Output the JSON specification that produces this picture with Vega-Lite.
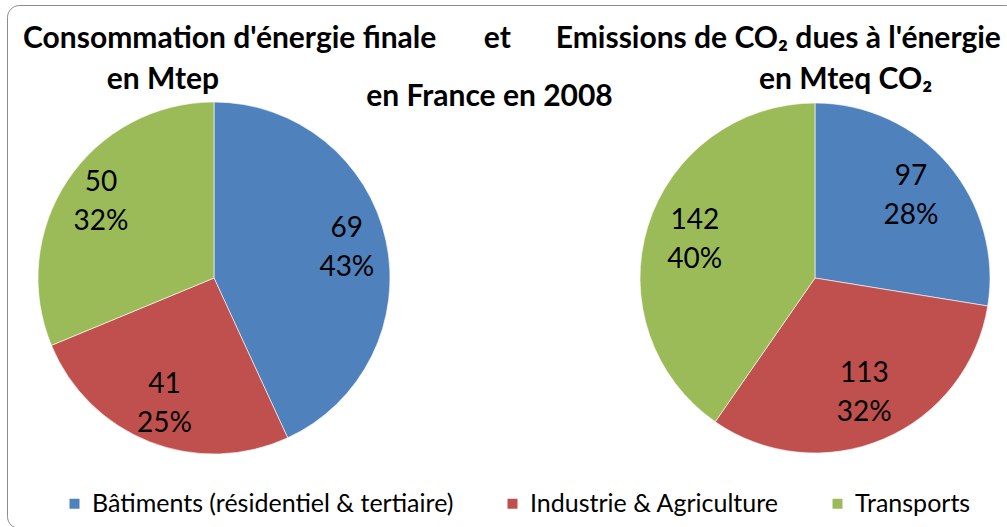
{
  "$schema": "https://vega.github.io/schema/vega-lite/v6.json",
  "width": 1010,
  "height": 523,
  "autosize": {"type": "none"},
  "padding": {"left": 7, "top": 5, "right": 0, "bottom": 0},
  "background": "white",
  "config": {
    "view": {"stroke": "#8c8c8c", "strokeWidth": 1, "cornerRadius": 12},
    "font": "Lato"
  },
  "title": {
    "text": [
      "Consommation d'énergie finale\u2003\u2002\u2006\u2006et\u2003\u2003Emissions de CO₂ dues à l'énergie",
      "\u200b\u2002en Mtep\u2003\u2003\u2003\u2003\u2003\u2003\u2003\u2003\u2003\u2003\u2003\u2003\u2003\u2003\u2003\u2003\u2003\u2003\u2003\u2003\u2003\u2003\u2003\u2003en Mteq CO₂\u200b"
    ],
    "subtitle": "\u200ben France en 2008\u2003\u2003\u200b",
    "orient": "top",
    "anchor": "middle",
    "frame": "group",
    "offset": -107,
    "font": "Lato",
    "fontSize": 30,
    "fontWeight": "bold",
    "lineHeight": 41,
    "color": "black",
    "subtitleFont": "Lato",
    "subtitleFontSize": 30,
    "subtitleFontWeight": "bold",
    "subtitleColor": "black",
    "subtitlePadding": -13
  },
  "data": {
    "values": [
      {"chart": "Consommation", "cat": "Bâtiments (résidentiel & tertiaire)", "value": 69, "pct": "43%"},
      {"chart": "Consommation", "cat": "Industrie & Agriculture", "value": 41, "pct": "25%"},
      {"chart": "Consommation", "cat": "Transports", "value": 50, "pct": "32%"},
      {"chart": "Emissions", "cat": "Bâtiments (résidentiel & tertiaire)", "value": 97, "pct": "28%"},
      {"chart": "Emissions", "cat": "Industrie & Agriculture", "value": 113, "pct": "32%"},
      {"chart": "Emissions", "cat": "Transports", "value": 142, "pct": "40%"}
    ]
  },
  "encoding": {
    "x": {
      "field": "chart",
      "type": "nominal",
      "scale": {"type": "point", "domain": ["Consommation", "Emissions"], "range": [207, 808], "padding": 0},
      "axis": null
    },
    "color": {
      "field": "cat",
      "type": "nominal",
      "scale": {
        "domain": ["Bâtiments (résidentiel & tertiaire)", "Industrie & Agriculture", "Transports"],
        "range": ["#4F81BD", "#C0504D", "#9BBB59"]
      },
      "legend": {
        "title": null,
        "orient": "none",
        "direction": "horizontal",
        "legendX": 55,
        "legendY": 486,
        "symbolType": "square",
        "symbolSize": 100,
        "symbolStrokeWidth": 0,
        "labelFont": "Lato",
        "labelFontSize": 25,
        "labelColor": "black",
        "labelLimit": 600,
        "labelOffset": 5,
        "columnPadding": 46
      }
    }
  },
  "layer": [
    {
      "transform": [{"filter": "datum.chart == 'Consommation'"}],
      "encoding": {
        "theta": {"field": "value", "type": "quantitative", "stack": true},
        "order": {"field": "cat", "type": "nominal", "sort": "ascending"}
      },
      "layer": [
        {"mark": {"type": "arc", "outerRadius": 176, "yOffset": 11.5, "stroke": "white", "strokeWidth": 0.6}},
        {
          "mark": {"type": "text", "radius": 136, "yOffset": 11.5, "dy": -19.5, "fontSize": 28, "font": "Lato"},
          "encoding": {"text": {"field": "value", "type": "quantitative"}, "detail": {"field": "cat", "type": "nominal"}, "color": {"value": "black"}}
        },
        {
          "mark": {"type": "text", "radius": 136, "yOffset": 11.5, "dy": 19.5, "fontSize": 28, "font": "Lato"},
          "encoding": {"text": {"field": "pct", "type": "nominal"}, "detail": {"field": "cat", "type": "nominal"}, "color": {"value": "black"}}
        }
      ]
    },
    {
      "transform": [{"filter": "datum.chart == 'Emissions'"}],
      "encoding": {
        "theta": {"field": "value", "type": "quantitative", "stack": true},
        "order": {"field": "cat", "type": "nominal", "sort": "ascending"}
      },
      "layer": [
        {"mark": {"type": "arc", "outerRadius": 175, "yOffset": 11.5, "stroke": "white", "strokeWidth": 0.6}},
        {
          "mark": {"type": "text", "radius": 126, "yOffset": 11.5, "dy": -19.5, "fontSize": 28, "font": "Lato"},
          "encoding": {"text": {"field": "value", "type": "quantitative"}, "detail": {"field": "cat", "type": "nominal"}, "color": {"value": "black"}}
        },
        {
          "mark": {"type": "text", "radius": 126, "yOffset": 11.5, "dy": 19.5, "fontSize": 28, "font": "Lato"},
          "encoding": {"text": {"field": "pct", "type": "nominal"}, "detail": {"field": "cat", "type": "nominal"}, "color": {"value": "black"}}
        }
      ]
    }
  ],
  "resolve": {"scale": {"theta": "independent"}}
}
